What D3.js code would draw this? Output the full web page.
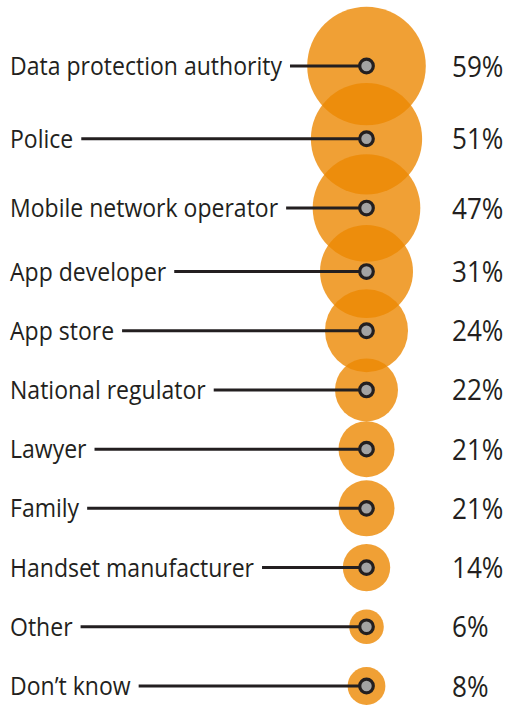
<!DOCTYPE html>
<html>
<head>
<meta charset="utf-8">
<script src="https://cdn.jsdelivr.net/npm/d3@7.9.0/dist/d3.min.js"></script>
<style>
  body { margin: 0; background: #fff; }
  svg { display: block; }
  text { font-family: "Open Sans", "Noto Sans", sans-serif; fill: #231f20; }
</style>
</head>
<body>
<svg id="chart"></svg>
<script>
// Who people would contact (% of respondents)
const categories = [
  "Data protection authority",
  "Police",
  "Mobile network operator",
  "App developer",
  "App store",
  "National regulator",
  "Lawyer",
  "Family",
  "Handset manufacturer",
  "Other",
  "Don\u2019t know"
];
const values = [59, 51, 47, 31, 24, 22, 21, 21, 14, 6, 8];

const width = 508, height = 705;
const cx = 366.5; // bubble column
const labelSqueeze = 0.886; // original face is narrower than Open Sans
const valueSqueeze = 0.87;
const svg = d3.select("#chart").attr("width", width).attr("height", height);

// bubble size scale (the original isn't strictly area-true, so piecewise)
const r = d3.scaleLinear()
  .domain([6, 14, 21, 22, 24, 31, 59])
  .range([17.3, 23.7, 28, 31.5, 41.5, 46.5, 59.3]);

// rows: gap depends on the two neighbouring bubbles, then fitted to the page
const gaps = values.slice(1).map((v, i) => Math.max(58, 0.62 * (r(values[i]) + r(v))));
const cum = [0];
gaps.forEach((g) => cum.push(cum[cum.length - 1] + g));
const y = d3.scaleLinear().domain([0, cum[cum.length - 1]]).range([66, 686]);

const rows = categories.map((c, i) => ({ label: c, value: values[i], y: y(cum[i]) }));

// bubbles (semi-transparent so overlaps get darker)
svg.append("g")
  .selectAll("circle")
  .data(rows)
  .join("circle")
  .attr("cx", cx)
  .attr("cy", (d) => d.y)
  .attr("r", (d) => r(d.value))
  .attr("fill", "#ec8803")
  .attr("fill-opacity", 0.8);

// labels
const labels = svg.append("g")
  .selectAll("text")
  .data(rows)
  .join("text")
  .attr("transform", (d) => `translate(10,${d.y + 9}) scale(${labelSqueeze},1)`)
  .attr("font-size", 26)
  .text((d) => d.label);

// leader lines from label end to the dot
svg.append("g")
  .selectAll("line")
  .data(rows)
  .join("line")
  .attr("x1", (d, i) => 10 + labels.nodes()[i].getComputedTextLength() * labelSqueeze + 8)
  .attr("x2", cx)
  .attr("y1", (d) => d.y)
  .attr("y2", (d) => d.y)
  .attr("stroke", "#231f20")
  .attr("stroke-width", 3);

// dots
svg.append("g")
  .selectAll("circle")
  .data(rows)
  .join("circle")
  .attr("cx", cx)
  .attr("cy", (d) => d.y)
  .attr("r", 6.8)
  .attr("fill", "#a3a3a3")
  .attr("stroke", "#231f20")
  .attr("stroke-width", 3.2);

// percentages
svg.append("g")
  .selectAll("text")
  .data(rows)
  .join("text")
  .attr("transform", (d) => `translate(452,${d.y + 10.5}) scale(${valueSqueeze},1)`)
  .attr("font-size", 30)
  .text((d) => d.value + "%");
</script>
</body>
</html>
